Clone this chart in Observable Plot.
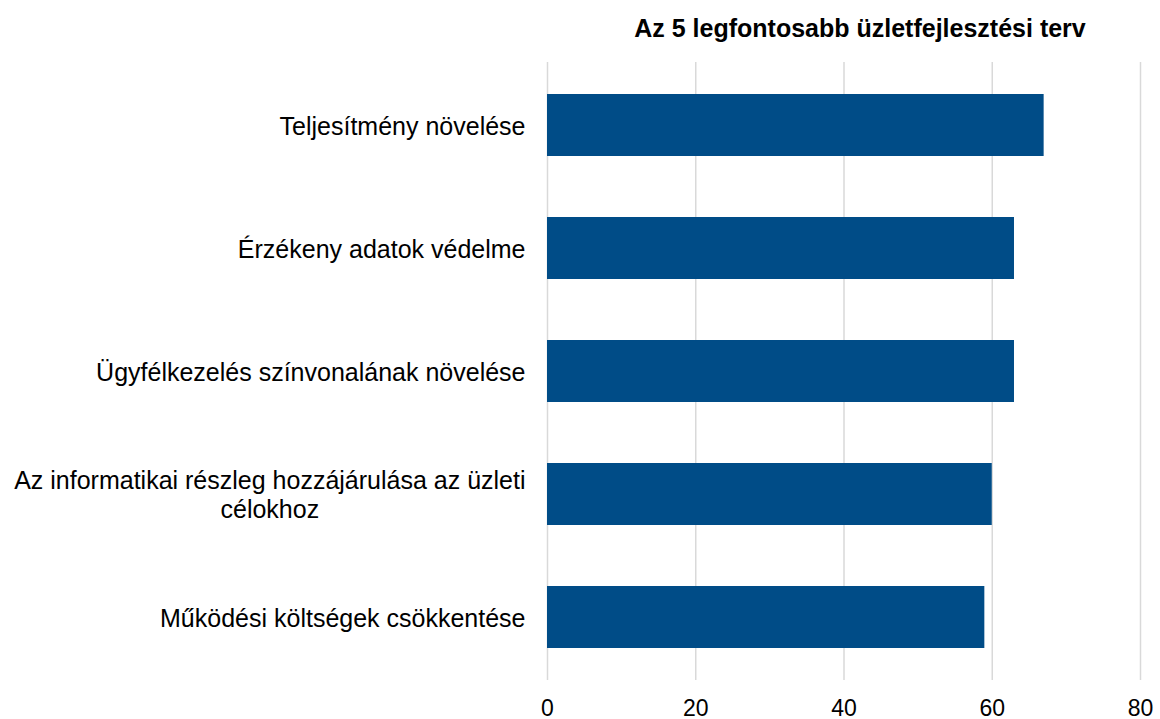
<!DOCTYPE html>
<html>
<head>
<meta charset="utf-8">
<script src="https://cdn.jsdelivr.net/npm/d3@7"></script>
<script src="https://cdn.jsdelivr.net/npm/@observablehq/plot@0.6"></script>
<style>
  body { margin: 0; background: #fff; font-family: "Liberation Sans", Arial, sans-serif; }
  #wrap { position: relative; width: 1160px; height: 719px; }
  #title { position: absolute; left: 0; top: 16px; width: 1160px; box-sizing: border-box; padding-left: 560px;
           line-height: 25px; text-align: center; font-weight: bold; font-size: 25px; color: #000; }
  #chart svg { display: block; }
</style>
</head>
<body>
<div id="wrap">
<div id="chart"></div>
<div id="title">Az 5 legfontosabb üzletfejlesztési terv</div>
</div>
<script>
const categories = [
  "Teljesítmény növelése",
  "Érzékeny adatok védelme",
  "Ügyfélkezelés színvonalának növelése",
  "Az informatikai részleg hozzájárulása az üzleti\ncélokhoz",
  "Működési költségek csökkentése"
];
const values = [67, 63, 63, 60, 59];
const xTicks = [0, 20, 40, 60, 80];

const data = categories.map((c, i) => ({category: c, value: values[i]}));

const chart = Plot.plot({
  width: 1160,
  height: 719,
  marginLeft: 547,
  marginRight: 20,
  marginTop: 62,
  marginBottom: 39,
  style: {fontFamily: "'Liberation Sans', Arial, sans-serif", fontSize: "23px", color: "#000", background: "#fff", overflow: "visible"},
  x: {domain: [0, 80], ticks: xTicks, tickSize: 0, tickPadding: 19, label: null},
  y: {domain: categories, paddingInner: 0.5, paddingOuter: 0.25, axis: null},
  marks: [
    Plot.gridX(xTicks, {stroke: "#d9d9d9", strokeOpacity: 1, strokeWidth: 1.5}),
    Plot.barX(data, {x: "value", y: "category", fill: "#004c87"}),
    Plot.text(data, {y: "category", text: "category", frameAnchor: "left", dx: -22,
      textAnchor: "end", fontSize: 25, fill: "#000", lineHeight: 1.15})
  ]
});
document.getElementById("chart").appendChild(chart);

// center multi-line labels within their block (right edge stays fixed)
chart.querySelectorAll("text").forEach(t => {
  const spans = t.querySelectorAll("tspan");
  if (spans.length > 1) {
    let w = 0;
    spans.forEach(s => { w = Math.max(w, s.getComputedTextLength()); });
    t.setAttribute("text-anchor", "middle");
    spans.forEach(s => s.setAttribute("x", -w / 2));
  }
});
</script>
</body>
</html>
